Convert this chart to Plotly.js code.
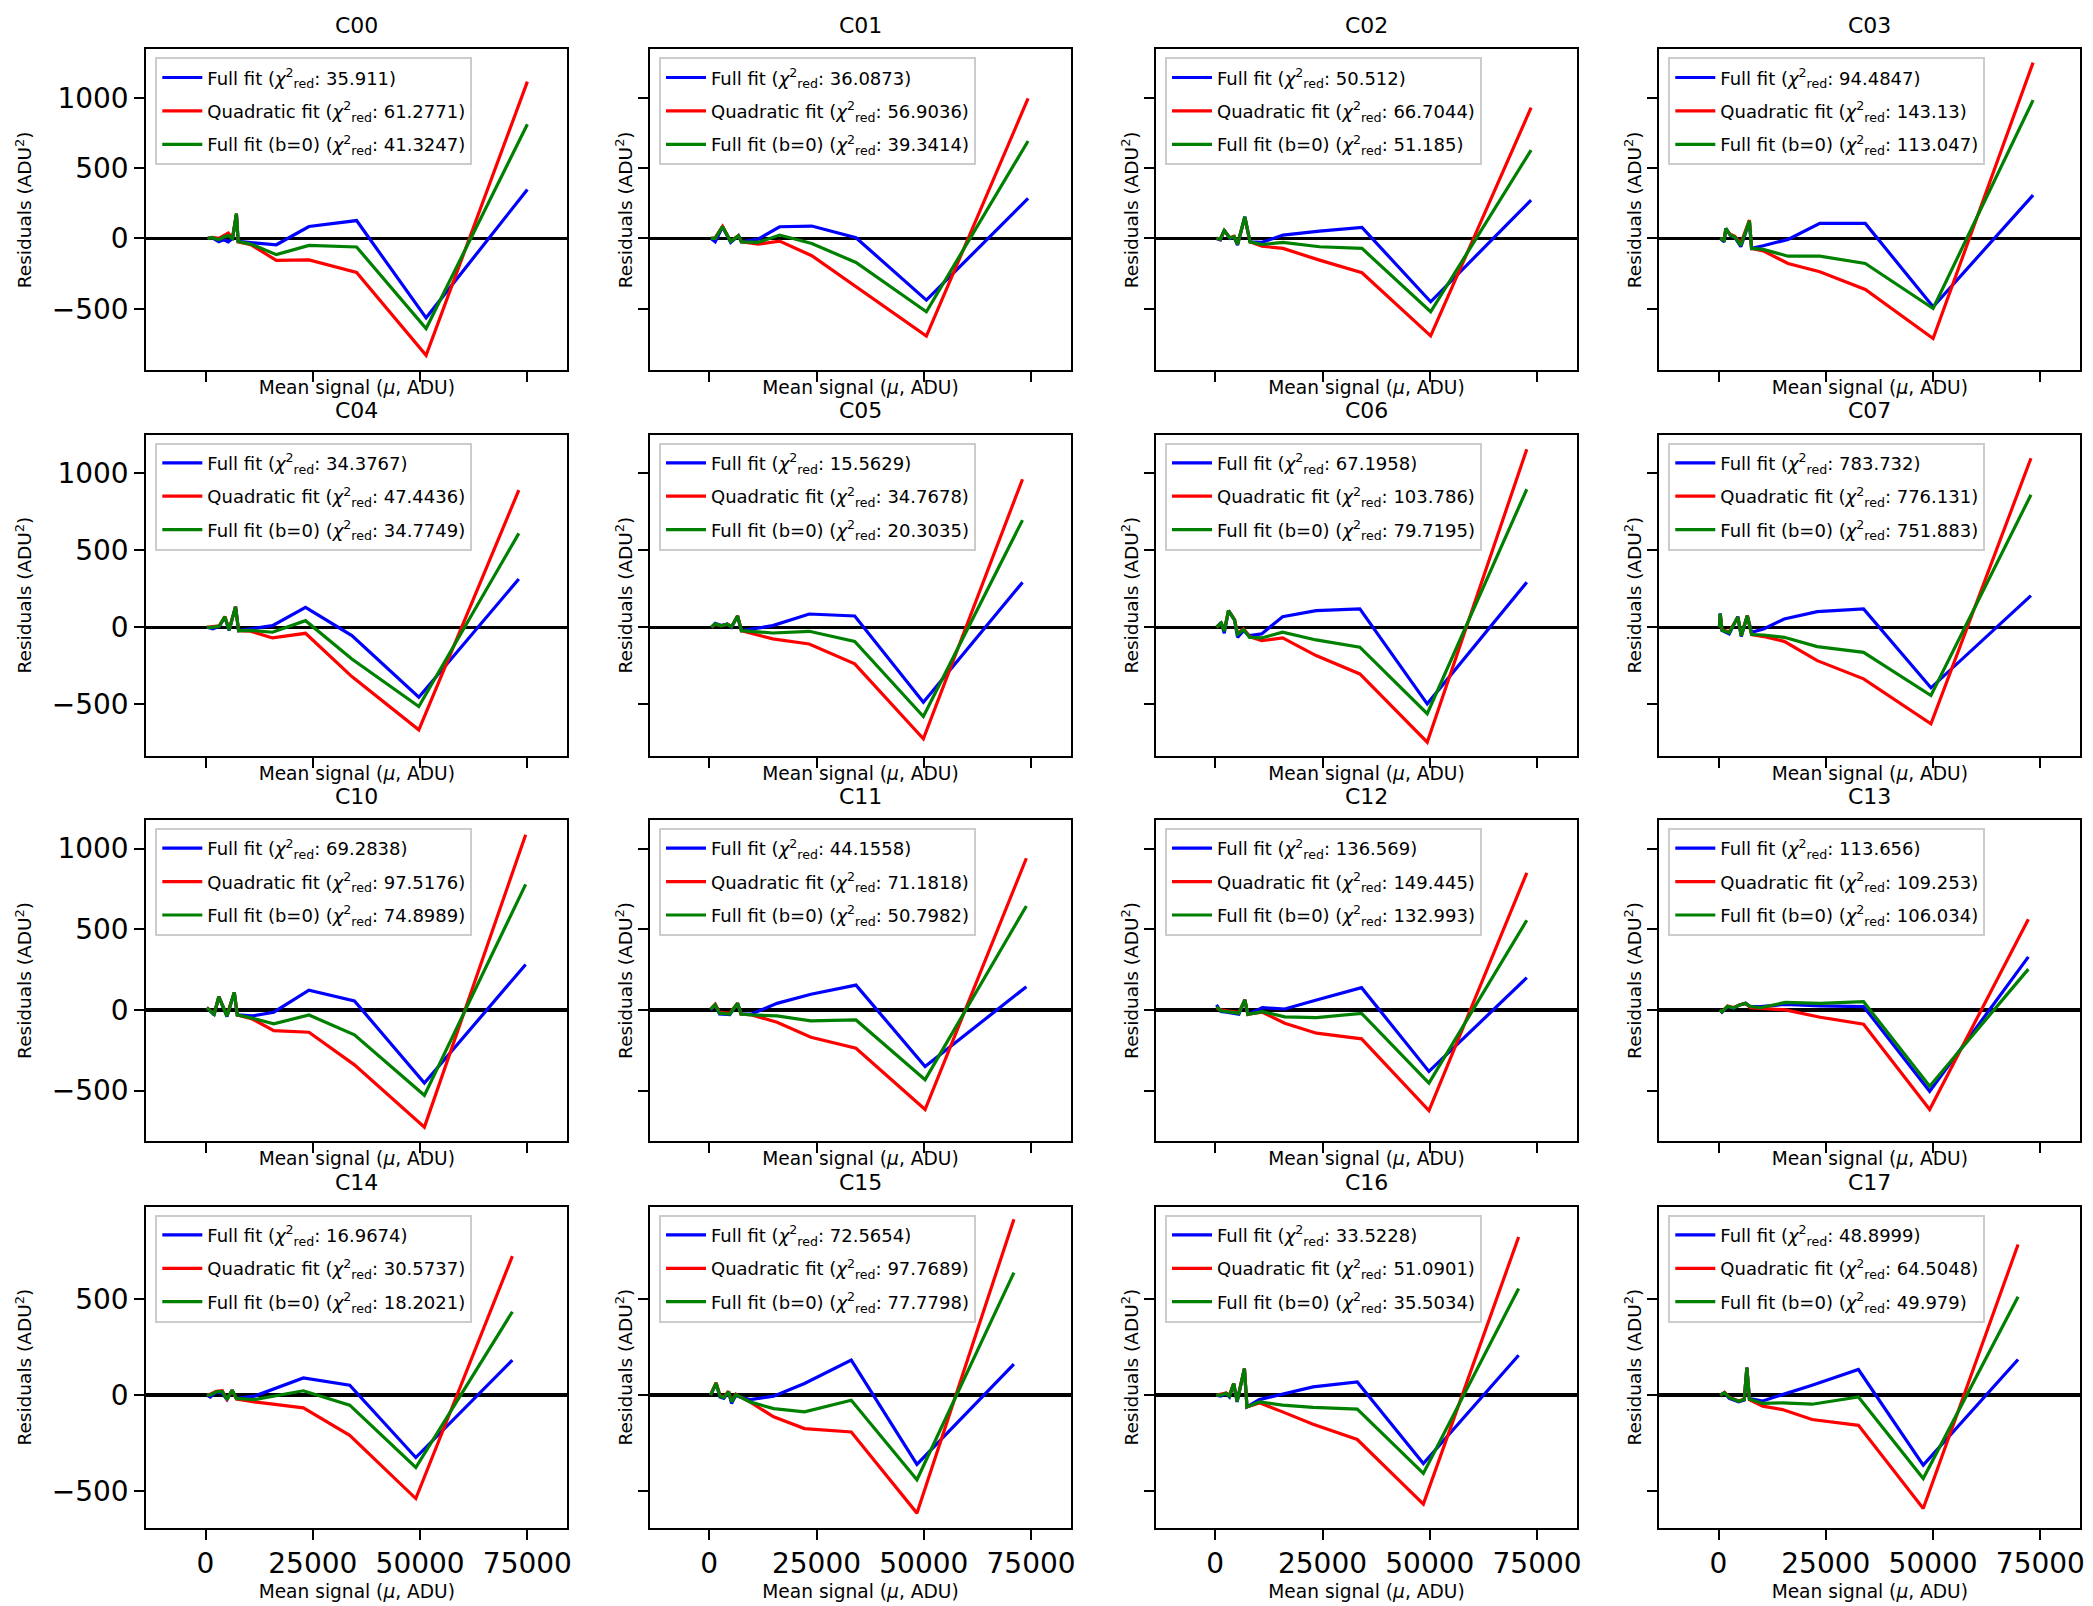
<!DOCTYPE html>
<html>
<head>
<meta charset="utf-8">
<script src="https://cdn.plot.ly/plotly-3.0.1.min.js"></script>
<style>html,body{margin:0;padding:0;background:#fff;}#chart{width:2093px;height:1606px;}</style>
</head>
<body>
<div id="chart"></div>
<script>
// ---------------- DATA ----------------
const channels = ['C00','C01','C02','C03','C04','C05','C06','C07','C10','C11','C12','C13','C14','C15','C16','C17'];
const chi2Full = [35.911, 36.0873, 50.512, 94.4847, 34.3767, 15.5629, 67.1958, 783.732, 69.2838, 44.1558, 136.569, 113.656, 16.9674, 72.5654, 33.5228, 48.8999];
const chi2Quad = [61.2771, 56.9036, 66.7044, 143.13, 47.4436, 34.7678, 103.786, 776.131, 97.5176, 71.1818, 149.445, 109.253, 30.5737, 97.7689, 51.0901, 64.5048];
const chi2B0   = [41.3247, 39.3414, 51.185, 113.047, 34.7749, 20.3035, 79.7195, 751.883, 74.8989, 50.7982, 132.993, 106.034, 18.2021, 77.7798, 35.5034, 49.979];

const xTickVals = [0, 25000, 50000, 75000];
const xTickText = ['0', '25000', '50000', '75000'];
const yTickVals = [-500, 0, 500, 1000];
const yTickText = ['\u2212500', '0', '500', '1000'];

// mean signal (mu) and residuals per channel: full fit, quadratic fit, full fit (b=0)
const muC00   = [500, 1500, 3100, 4200, 5300, 6300, 7200, 7600, 10600, 16500, 24100, 35200, 51400, 75000];
const fullC00 = [0, 5, -24, -10, -24, 0, 172, -21, -30, -45, 85, 127, -564, 348];
const quadC00 = [0, 8, 0, 20, 38, 5, 175, -25, -45, -156, -153, -241, -831, 1114];
const b0C00   = [0, 5, -10, 10, 20, 0, 178, -22, -40, -115, -50, -61, -640, 811];

const muC01   = [400, 1400, 3100, 5000, 6800, 7500, 11400, 16400, 23900, 34200, 50600, 74300];
const fullC01 = [0, -24, 83, -28, 19, -24, -5, 83, 88, 5, -438, 284];
const quadC01 = [0, 5, 85, -20, 20, -24, -40, -19, -123, -344, -694, 995];
const b0C01   = [0, 0, 85, -22, 20, -24, -28, 24, -36, -171, -521, 692];

const muC02   = [300, 1200, 2100, 3400, 4400, 5200, 6900, 8100, 10900, 15800, 24300, 34200, 50200, 73600];
const fullC02 = [0, -10, 59, 0, 10, -47, 154, -24, -28, 24, 52, 78, -450, 273];
const quadC02 = [0, -5, 55, 5, 15, -40, 150, -24, -55, -71, -154, -244, -692, 929];
const b0C02   = [0, -5, 57, 3, 12, -42, 154, -24, -43, -28, -59, -71, -521, 628];

const muC03   = [400, 1300, 1700, 2700, 3800, 5200, 7200, 7700, 10400, 16200, 23600, 34200, 50000, 73300];
const fullC03 = [0, -24, 71, 24, 7, -59, 118, -71, -52, -7, 107, 107, -486, 308];
const quadC03 = [0, -10, 65, 30, 15, -35, 130, -71, -88, -178, -237, -363, -711, 1249];
const b0C03   = [0, -15, 71, 24, 10, -50, 125, -71, -78, -126, -126, -178, -498, 983];

const muC04   = [300, 1700, 3200, 4500, 5500, 7000, 7700, 10500, 15600, 23300, 34100, 49700, 73000];
const fullC04 = [0, -10, 5, 65, -20, 134, -22, -10, 11, 129, -54, -453, 313];
const quadC04 = [0, 5, 10, 70, -15, 134, -22, -25, -69, -39, -319, -664, 888];
const b0C04   = [0, 0, 8, 68, -18, 134, -22, -20, -32, 43, -205, -513, 608];

const muC05   = [500, 1400, 2800, 4200, 5200, 6600, 7500, 10500, 14800, 23300, 33900, 49900, 73000];
const fullC05 = [0, 26, 11, 22, 0, 73, -22, -10, 11, 86, 73, -485, 291];
const quadC05 = [0, 20, 10, 20, 5, 73, -22, -45, -75, -108, -237, -722, 959];
const b0C05   = [0, 22, 10, 20, 3, 73, -22, -30, -37, -26, -91, -578, 694];

const muC06   = [300, 1400, 2100, 3100, 4500, 5200, 6600, 8000, 10800, 15700, 23500, 33700, 49400, 72600];
const fullC06 = [0, 32, -39, 108, 47, -65, -22, -54, -43, 69, 108, 119, -496, 291];
const quadC06 = [0, 25, -20, 108, 50, -40, -10, -60, -86, -69, -183, -302, -744, 1153];
const b0C06   = [0, 28, -25, 108, 48, -45, -15, -65, -69, -32, -82, -129, -560, 894];

const muC07   = [200, 400, 800, 2500, 4500, 5300, 6700, 7700, 10500, 15300, 23000, 33800, 49500, 72800];
const fullC07 = [0, 90, -20, -43, 69, -60, 75, -32, -11, 54, 101, 119, -392, 205];
const quadC07 = [0, 85, -15, -30, 65, -50, 75, -47, -60, -91, -216, -334, -625, 1095];
const b0C07   = [0, 88, -18, -35, 67, -55, 75, -47, -50, -65, -125, -162, -442, 858];

const muC10   = [300, 2000, 3100, 5000, 6700, 7400, 10900, 15900, 24100, 34700, 51000, 74600];
const fullC10 = [14, -31, 82, -41, 109, -31, -37, -14, 123, 56, -453, 282];
const quadC10 = [14, -25, 82, -35, 109, -31, -56, -128, -138, -340, -726, 1086];
const b0C10   = [14, -28, 82, -38, 109, -31, -51, -86, -31, -154, -529, 778];

const muC11   = [300, 1400, 2400, 4800, 6600, 7400, 9900, 15800, 23700, 34200, 50300, 73900];
const fullC11 = [0, 31, -25, -29, 41, -25, -25, 41, 97, 154, -350, 144];
const quadC11 = [5, 35, -15, -20, 41, -25, -31, -76, -169, -237, -617, 940];
const b0C11   = [3, 33, -20, -25, 41, -25, -31, -37, -68, -62, -432, 644];

const muC12   = [300, 1300, 2700, 5500, 6900, 7600, 11000, 16200, 23600, 34100, 49800, 72600];
const fullC12 = [31, -10, -14, -27, 62, -27, 14, 6, 62, 138, -381, 200];
const quadC12 = [10, 0, -5, -15, 62, -27, -14, -82, -144, -179, -623, 850];
const b0C12   = [20, -5, -10, -20, 62, -27, -10, -43, -47, -21, -453, 556];

const muC13   = [300, 800, 2100, 3500, 4900, 6300, 7400, 9800, 15600, 23700, 33800, 49200, 72200];
const fullC13 = [0, -14, 21, 10, 31, 41, 21, 21, 35, 25, 21, -504, 329];
const quadC13 = [0, -10, 25, 15, 31, 41, 14, 10, 0, -45, -88, -617, 562];
const b0C13   = [0, -12, 23, 12, 31, 41, 21, 14, 47, 41, 51, -473, 253];

const muC14   = [300, 1100, 2500, 3900, 5000, 6200, 7200, 11400, 22800, 33600, 49000, 71500];
const fullC14 = [0, -10, 17, 10, -23, 26, -17, -5, 90, 52, -325, 183];
const quadC14 = [0, 5, 20, 23, -20, 26, -20, -35, -66, -209, -539, 725];
const b0C14   = [0, 0, 18, 20, -22, 26, -17, -23, 23, -52, -377, 435];

const muC15   = [300, 1600, 2500, 3400, 4500, 5200, 6200, 7200, 9500, 15000, 22200, 33100, 48400, 71000];
const fullC15 = [0, 61, -10, -17, 17, -43, 0, -9, -23, -5, 61, 183, -361, 162];
const quadC15 = [0, 65, 0, -10, 20, -30, 5, -9, -35, -113, -174, -192, -615, 918];
const b0C15   = [0, 63, -5, -12, 18, -35, 3, -9, -35, -70, -87, -26, -441, 639];

const muC16   = [200, 1300, 2500, 3300, 4300, 5100, 6800, 7400, 10300, 15700, 22800, 33100, 48500, 70700];
const fullC16 = [0, -5, 9, -9, 61, -35, 139, -61, -23, 5, 43, 69, -356, 208];
const quadC16 = [0, 5, 12, 0, 61, -30, 139, -61, -40, -87, -151, -231, -568, 825];
const b0C16   = [0, 0, 10, -5, 61, -32, 139, -61, -35, -52, -64, -73, -408, 556];

const muC17   = [400, 1400, 2500, 4700, 6000, 6600, 7200, 10300, 14900, 21800, 32600, 47700, 69800];
const fullC17 = [0, 12, -17, -35, -25, 144, -17, -30, 3, 52, 134, -365, 186];
const quadC17 = [0, 15, -10, -30, -20, 144, -23, -57, -75, -127, -157, -591, 786];
const b0C17   = [0, 13, -12, -32, -22, 144, -20, -43, -40, -47, -9, -435, 513];

const muList   = [muC00, muC01, muC02, muC03, muC04, muC05, muC06, muC07, muC10, muC11, muC12, muC13, muC14, muC15, muC16, muC17];
const fullList = [fullC00, fullC01, fullC02, fullC03, fullC04, fullC05, fullC06, fullC07, fullC10, fullC11, fullC12, fullC13, fullC14, fullC15, fullC16, fullC17];
const quadList = [quadC00, quadC01, quadC02, quadC03, quadC04, quadC05, quadC06, quadC07, quadC10, quadC11, quadC12, quadC13, quadC14, quadC15, quadC16, quadC17];
const b0List   = [b0C00, b0C01, b0C02, b0C03, b0C04, b0C05, b0C06, b0C07, b0C10, b0C11, b0C12, b0C13, b0C14, b0C15, b0C16, b0C17];

// ---------------- LAYOUT ----------------
const W = 2093, H = 1606;
const FONT = 'DejaVu Sans';
const colL = [146.3, 650, 1156, 1659.3];
const boxW = 421;
const rowT = [49.3, 434.6, 820, 1206.7];
const boxH = 321;
const xRange = [-13800, 84300];
const yRanges = [[-937, 1344], [-831, 1248], [-812, 1177], [-691, 983]];

const chi = '<i>\u03c7</i><sup>2</sup><sub>red</sub>';
const traces = [];
const layout = {
  width: W, height: H,
  margin: {l: 0, r: 0, t: 0, b: 0, pad: 0},
  paper_bgcolor: '#ffffff', plot_bgcolor: '#ffffff',
  font: {family: FONT, color: '#000000'},
  showlegend: true,
  annotations: []
};

for (let i = 0; i < 16; i++) {
  const r = Math.floor(i / 4), c = i % 4;
  const s = i === 0 ? '' : String(i + 1);
  const legKey = i === 0 ? 'legend' : 'legend' + (i + 1);
  const series = [
    {y: fullList[i], color: '#0000ff', name: 'Full fit (' + chi + ': ' + chi2Full[i] + ')'},
    {y: quadList[i], color: '#ff0000', name: 'Quadratic fit (' + chi + ': ' + chi2Quad[i] + ')'},
    {y: b0List[i],   color: '#008000', name: 'Full fit (b=0) (' + chi + ': ' + chi2B0[i] + ')'}
  ];
  series.forEach((sr, k) => {
    traces.push({
      type: 'scatter', mode: 'lines',
      x: muList[i], y: sr.y,
      xaxis: 'x' + s, yaxis: 'y' + s,
      line: {color: sr.color, width: 3.2},
      name: sr.name, legend: legKey, legendgroup: 'p' + i + 'g' + k,
      hoverinfo: 'skip'
    });
  });

  layout['xaxis' + s] = {
    domain: [colL[c] / W, (colL[c] + boxW) / W],
    anchor: 'y' + s,
    range: xRange, autorange: false,
    showline: true, mirror: true, linecolor: '#000', linewidth: 2,
    ticks: 'outside', ticklen: 10, tickwidth: 2, tickcolor: '#000',
    tickmode: 'array', tickvals: xTickVals, ticktext: xTickText,
    showticklabels: r === 3,
    tickfont: {size: 28, family: FONT, color: '#000'},
    showgrid: false, zeroline: false,
    title: {text: 'Mean signal (<i>\u03bc</i>, ADU)', font: {size: 18.6, family: FONT, color: '#000'}, standoff: r === 3 ? 6 : 0}
  };
  const yv = r === 3 ? yTickVals.slice(0, 3) : yTickVals;
  const yt = r === 3 ? yTickText.slice(0, 3) : yTickText;
  layout['yaxis' + s] = {
    domain: [(H - rowT[r] - boxH) / H, (H - rowT[r]) / H],
    anchor: 'x' + s,
    range: yRanges[r], autorange: false,
    showline: true, mirror: true, linecolor: '#000', linewidth: 2,
    ticks: 'outside', ticklen: 10, tickwidth: 2, tickcolor: '#000',
    tickmode: 'array', tickvals: yv, ticktext: yt,
    showticklabels: c === 0,
    tickfont: {size: 28, family: FONT, color: '#000'},
    showgrid: false,
    zeroline: true, zerolinecolor: '#000', zerolinewidth: 3.5,
    title: {text: 'Residuals (ADU<sup>2</sup>)', font: {size: 18.5, family: FONT, color: '#000'}, standoff: c === 0 ? 15 : 1}
  };
  layout[legKey] = {
    x: (colL[c] + 9) / W, y: (H - (rowT[r] + 8)) / H,
    xanchor: 'left', yanchor: 'top',
    bgcolor: 'rgba(255,255,255,0.8)', bordercolor: '#cccccc', borderwidth: 2,
    font: {size: 18, family: FONT, color: '#000'},
    tracegroupgap: 7, itemwidth: 40
  };
  layout.annotations.push({
    text: channels[i], showarrow: false,
    xref: 'paper', yref: 'paper',
    x: (colL[c] + boxW / 2) / W, y: (H - (rowT[r] - 24)) / H,
    xanchor: 'center', yanchor: 'middle',
    font: {size: 22, family: FONT, color: '#000'}
  });
}

Plotly.newPlot('chart', traces, layout, {displayModeBar: false, staticPlot: true});
</script>
</body>
</html>
